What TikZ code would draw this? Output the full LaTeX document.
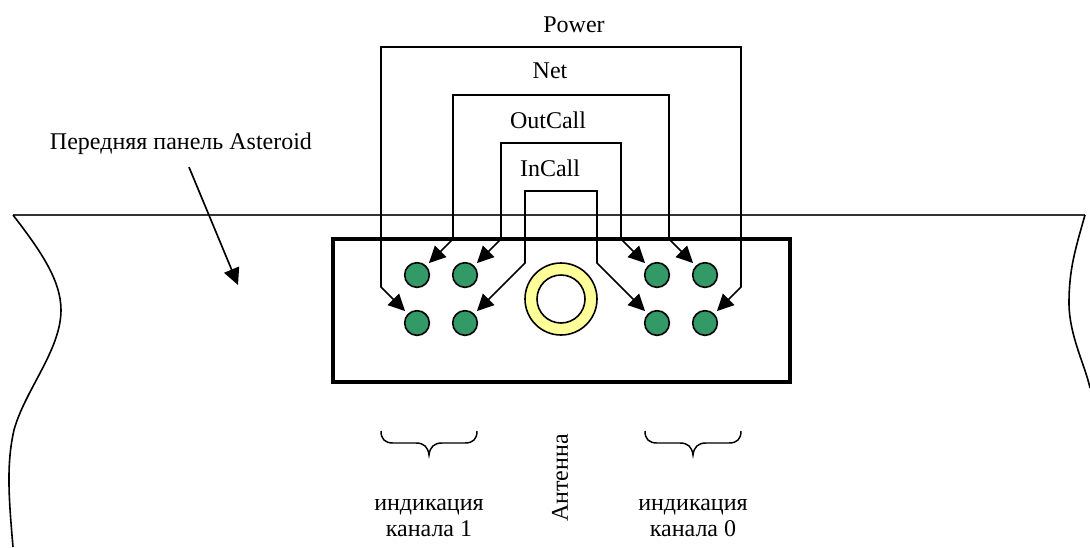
\documentclass[tikz,border=0pt]{standalone}
\usepackage{fontspec}
\setmainfont{Liberation Serif}
\usepackage{tikz}
\usetikzlibrary{arrows.meta}
\definecolor{ledgreen}{HTML}{339966}
\definecolor{ringyellow}{HTML}{FFFF99}
\tikzset{
  wire/.style={line width=1.25pt,{Triangle[length=12.5pt,width=12pt]}-{Triangle[length=12.5pt,width=12pt]},shorten <=2.8pt,shorten >=2.8pt},
  led/.style={circle,draw,line width=1.2pt,fill=ledgreen,minimum size=18.5pt,inner sep=0pt},
  lbl/.style={font=\fontsize{18}{20.2}\selectfont,align=center,inner sep=0pt},
  curly/.style={line width=1.1pt}
}
\begin{document}
\begin{tikzpicture}[x=0.75pt,y=-0.75pt]
    \useasboundingbox (0,0) rectangle (1090,547);
    % panel outline
    \draw[line width=1.25pt,black!80] (13,215) -- (1085,215);
    \draw[line width=1.2pt] (13,215) .. controls (40,250) and (61,280) .. (61,310)
        .. controls (61,350) and (25,390) .. (14,430)
        .. controls (6,465) and (9,500) .. (13,547);
    \draw[line width=1.2pt] (1085,215) .. controls (1075,250) and (1069,270) .. (1069,303)
        .. controls (1069,335) and (1085,365) .. (1090,388);
    \draw[line width=2.6pt] (333,239) rectangle (790,382);
    % leds
    \node[led] (ledA) at (417,275) {};
    \node[led] (ledB) at (465,275) {};
    \node[led] (ledC) at (417,323) {};
    \node[led] (ledD) at (465,323) {};
    \node[led] (ledE) at (657,275) {};
    \node[led] (ledF) at (705,275) {};
    \node[led] (ledG) at (657,323) {};
    \node[led] (ledH) at (705,323) {};
    % antenna
    \node[circle,draw,line width=1.2pt,fill=ringyellow,minimum size=54pt,inner sep=0pt] (ringOut) at (561,299) {};
    \node[circle,draw,line width=1.2pt,fill=white,minimum size=36pt,inner sep=0pt] (ringIn) at (561,299) {};
    % wires
    \coordinate (powerL) at (381,287);
    \coordinate (powerR) at (741,287);
    \coordinate (netL) at (453,239);
    \coordinate (netR) at (669,239);
    \coordinate (outL) at (501,239);
    \coordinate (outR) at (621,239);
    \coordinate (inL) at (525,263);
    \coordinate (inR) at (597,263);
    \draw[wire] (ledC) -- (powerL) -- (381,47) -- (741,47) -- (powerR) -- (ledH);
    \draw[wire] (ledA) -- (netL) -- (453,95) -- (669,95) -- (netR) -- (ledF);
    \draw[wire] (ledB) -- (outL) -- (501,143) -- (621,143) -- (outR) -- (ledE);
    \draw[wire] (ledD) -- (inL) -- (525,191) -- (597,191) -- (inR) -- (ledG);
    % labels
    \node[lbl] (power) at (574,25) {Power};
    \node[lbl] (net) at (550,71) {Net};
    \node[lbl] (outcall) at (548,120) {OutCall};
    \node[lbl] (incall) at (550,168) {InCall};
    \node[lbl] (panel) at (181,144) {Передняя панель Asteroid};
    \node[lbl] (chanOne) at (429,518) {индикация\\канала 1};
    \node[lbl] (chanZero) at (693,518) {индикация\\канала 0};
    \node[lbl,rotate=90] (antenna) at (560,478) {Антенна};
    \coordinate (panelEnd) at (238,285);
    \draw[line width=1.25pt,-{Triangle[length=12.5pt,width=12pt]}] ([xshift=6pt,yshift=-9pt]panel.south) -- (panelEnd);
    % braces
    \draw[curly] (381,431) .. controls (381,439) and (385,443) .. (393,443) -- (416,443)
        .. controls (424,443) and (428,447) .. (429,455) .. controls (430,447) and (434,443) .. (442,443)
        -- (465,443) .. controls (473,443) and (477,439) .. (477,431);
    \draw[curly] (645,431) .. controls (645,439) and (649,443) .. (657,443) -- (680,443)
        .. controls (688,443) and (692,447) .. (693,455) .. controls (694,447) and (698,443) .. (706,443)
        -- (729,443) .. controls (737,443) and (741,439) .. (741,431);
\end{tikzpicture}
\end{document}
